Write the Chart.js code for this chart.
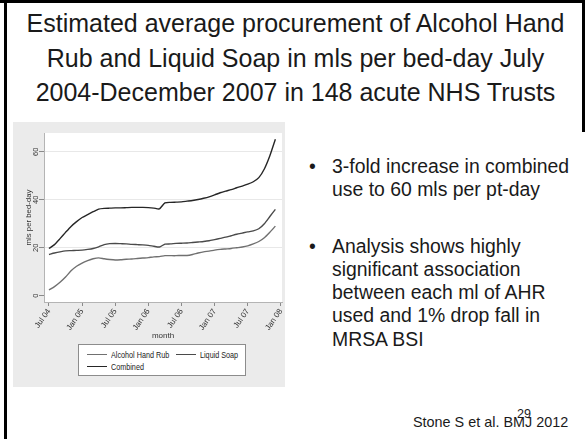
<!DOCTYPE html>
<html>
<head>
<meta charset="utf-8">
<title>AHR and liquid soap procurement</title>
<script src="https://cdn.jsdelivr.net/npm/chart.js@4.4.1/dist/chart.umd.min.js"></script>
<style>
  body { margin: 0; background: #fff; }
  #slide { position: relative; width: 585px; height: 439px; overflow: hidden; background: #fff;
           font-family: "Liberation Sans", Arial, sans-serif; color: #1a1a1a; }
  .edge { position: absolute; background: #000; }
  #title { position: absolute; left: 6px; width: 579px; top: 6px; text-align: center;
           font-size: 25px; line-height: 34.5px; white-space: nowrap; }
  #panel { position: absolute; left: 13px; top: 122px; width: 272px; height: 265px; background: #ebebeb; }
  #chartBox { position: absolute; left: 13px; top: 122px; width: 285px; height: 265px; }
  #legend { position: absolute; left: 78px; top: 344px; width: 166px; height: 30px; background: #fff;
            border: 1px solid #8c8c8c; color: #222;
            font-family: "Liberation Sans", Arial, sans-serif; font-size: 9.5px; }
  #legend .item { position: absolute; display: flex; align-items: center; height: 12px; white-space: nowrap; }
  #legend .swatch { width: 20px; height: 0; border-top: 1.4px solid; margin-right: 4px; }
  #legend .txt { display: inline-block; transform: scaleX(0.76); transform-origin: left center; }
  .bullets { position: absolute; left: 332px; font-size: 19.4px; line-height: 23.3px; white-space: nowrap; }
  .bullets .dot { position: absolute; left: -23px; }
  #cite { position: absolute; left: 413px; top: 414.5px; font-size: 14.4px; line-height: 14.4px; white-space: nowrap; }
  #sup { position: absolute; left: 517px; top: 407.5px; font-size: 12.6px; line-height: 12.6px; }
</style>
</head>
<body>
<div id="slide">
  <div class="edge" style="left:0;top:0;width:585px;height:3px"></div>
  <div class="edge" style="left:4px;top:0;width:3px;height:439px"></div>
  <div class="edge" style="left:582px;top:0;width:3px;height:132px"></div>

  <div id="title">Estimated average procurement of Alcohol Hand<br>Rub and Liquid Soap in mls per bed-day July<br>2004-December 2007 in 148 acute NHS Trusts</div>

  <div id="panel"></div>
  <div id="chartBox"><canvas id="procChart" width="285" height="265"></canvas></div>
  <div id="legend"></div>

  <div class="bullets" style="top:154.6px"><span class="dot">•</span>3-fold increase in combined<br>use to 60 mls per pt-day</div>
  <div class="bullets" style="top:234.6px"><span class="dot">•</span>Analysis shows highly<br>significant association<br>between each ml of AHR<br>used and 1% drop fall in<br>MRSA BSI</div>

  <div id="cite">Stone S et al. BMJ 2012</div>
  <div id="sup">29</div>
</div>

<script>
// months run Jul 2004 (0) .. Dec 2007 (41)
const xTickLabels = ['Jul 04', 'Jan 05', 'Jul 05', 'Jan 06', 'Jul 06', 'Jan 07', 'Jul 07', 'Jan 08'];
const yTickValues = [0, 20, 40, 60];
const seriesNames = ['Alcohol Hand Rub', 'Liquid Soap', 'Combined'];

const alcoholHandRub = [2.4, 3.8, 5.6, 7.8, 10.4, 12.3, 13.6, 14.6, 15.4, 15.8, 15.4, 15.1, 14.9, 15.0,
  15.2, 15.3, 15.5, 15.7, 15.9, 16.2, 16.3, 16.7, 16.7, 16.7, 16.8, 16.8, 17.2, 17.8, 18.3, 18.6,
  19.0, 19.3, 19.5, 19.7, 20.0, 20.3, 20.8, 21.6, 22.6, 24.2, 26.5, 29.0];
const liquidSoap = [17.2, 17.8, 18.3, 18.7, 18.8, 18.9, 19.0, 19.3, 19.7, 20.4, 21.3, 21.7, 21.8, 21.7,
  21.6, 21.4, 21.3, 21.2, 21.0, 20.6, 20.3, 21.5, 21.6, 21.8, 21.9, 22.0, 22.2, 22.4, 22.6, 22.9,
  23.4, 23.9, 24.4, 25.0, 25.6, 26.1, 26.6, 27.0, 27.9, 30.0, 33.0, 36.0];
const combined = [19.7, 21.3, 23.8, 26.4, 28.9, 30.9, 32.6, 33.8, 35.0, 36.1, 36.4, 36.5, 36.6, 36.6,
  36.7, 36.8, 36.8, 36.8, 36.7, 36.5, 36.2, 38.7, 38.9, 39.0, 39.1, 39.4, 39.7, 40.1, 40.6, 41.2,
  42.0, 42.9, 43.6, 44.2, 45.0, 45.7, 46.5, 47.5, 49.2, 52.8, 58.3, 65.2];

const lineColors = ['#707070', '#4a4a4a', '#262626'];

function toPoints(arr) {
  return arr.map((v, i) => ({ x: i, y: v }));
}

// white plot region on the grey graph background
const plotBackground = {
  id: 'plotBackground',
  beforeDraw(chart) {
    const { ctx, chartArea: a } = chart;
    ctx.save();
    ctx.fillStyle = '#ffffff';
    ctx.fillRect(a.left, a.top, a.right - a.left, a.bottom - a.top);
    ctx.restore();
  }
};

Chart.defaults.font.family = '"Liberation Sans", Arial, sans-serif';
Chart.defaults.color = '#333';

const chart = new Chart(document.getElementById('procChart'), {
  type: 'line',
  data: {
    datasets: [alcoholHandRub, liquidSoap, combined].map((arr, i) => ({
      label: seriesNames[i],
      data: toPoints(arr),
      borderColor: lineColors[i],
      borderWidth: 1.4,
      pointRadius: 0,
      tension: 0.2,
      fill: false
    }))
  },
  options: {
    responsive: false,
    animation: false,
    layout: { padding: { left: 0, top: 11, right: 16, bottom: 46.6 } },
    plugins: { legend: { display: false }, tooltip: { enabled: false } },
    scales: {
      x: {
        type: 'linear',
        min: -0.9,
        max: 42.2,
        afterBuildTicks: s => { s.ticks = xTickLabels.map((_, i) => ({ value: i * 6 })); },
        afterFit: s => { s.height = 38.4; },
        ticks: {
          callback: v => xTickLabels[v / 6],
          minRotation: 55, maxRotation: 55, autoSkip: false, padding: 1,
          font: { size: 8 }, color: '#333'
        },
        grid: { drawOnChartArea: false, tickLength: 4, tickColor: '#8a8a8a' },
        border: { color: '#b4b4b4' },
        title: { display: true, text: 'month', font: { size: 8 }, padding: 0, color: '#333' }
      },
      y: {
        min: -2.6,
        max: 67.8,
        afterBuildTicks: s => { s.ticks = yTickValues.map(v => ({ value: v })); },
        afterFit: s => { s.width = 31; },
        ticks: { minRotation: 90, maxRotation: 90, crossAlign: 'center', padding: -1, autoSkip: false,
                 font: { size: 7.5 }, color: '#333' },
        grid: {
          color: c => (c.tick && c.tick.value === 0) ? 'rgba(0,0,0,0)' : '#e8e8e8',
          tickLength: 5, tickColor: '#8a8a8a'
        },
        border: { color: '#b4b4b4' },
        title: { display: true, text: 'mls per bed-day', font: { size: 7.8 }, padding: { top: 11 }, color: '#333' }
      }
    }
  },
  plugins: [plotBackground]
});

// legend box, two columns like the original
const legendSlots = [{ left: 8, top: 3 }, { left: 97, top: 3 }, { left: 8, top: 15.7 }];
const legendEl = document.getElementById('legend');
chart.data.datasets.forEach((ds, i) => {
  const item = document.createElement('div');
  item.className = 'item';
  item.style.left = legendSlots[i].left + 'px';
  item.style.top = legendSlots[i].top + 'px';
  const sw = document.createElement('span');
  sw.className = 'swatch';
  sw.style.borderTopColor = ds.borderColor;
  const txt = document.createElement('span');
  txt.className = 'txt';
  txt.textContent = ds.label;
  item.appendChild(sw);
  item.appendChild(txt);
  legendEl.appendChild(item);
});
</script>
</body>
</html>
